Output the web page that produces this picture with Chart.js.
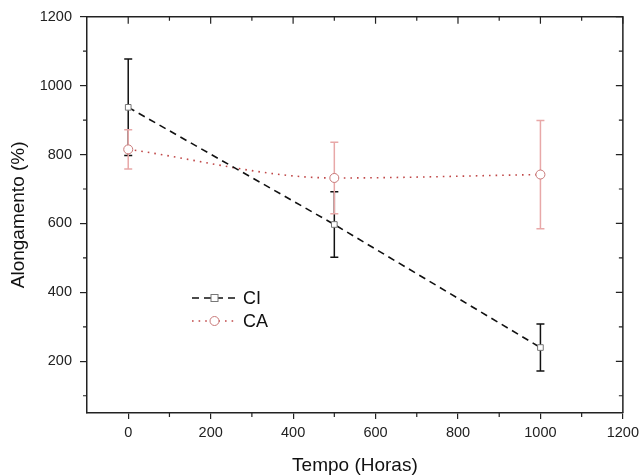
<!DOCTYPE html>
<html>
<head>
<meta charset="utf-8">
<script src="https://cdn.jsdelivr.net/npm/chart.js@4.4.0/dist/chart.umd.min.js"></script>
<style>
  body { margin: 0; background: #fff; }
  canvas { display: block; }
</style>
</head>
<body>
<canvas id="chart" width="644" height="475"></canvas>
<script>
//data
const hours = [0, 500, 1000];
const ciValues = [937, 597, 240];
const ciErrors = [140, 95, 68];
const caValues = [815, 732, 742];
const caErrors = [57, 104, 157];
//tick labels
const xTicks = [0, 200, 400, 600, 800, 1000, 1200];
const xMinor = [100, 300, 500, 700, 900, 1100];
const yTicks = [200, 400, 600, 800, 1000, 1200];
const yMinor = [100, 300, 500, 700, 900, 1100];

const FONT = "'Liberation Sans', Arial, sans-serif";
const AXIS = "#222";

const errorsFor = [ciErrors, caErrors];
const errorColors = ["#111", "#e8a8a8"];

//error bars, drawn under the markers
const errorBars = {
  id: "errorBars",
  beforeDatasetsDraw(chart) {
    const ctx = chart.ctx;
    const y = chart.scales.y;
    chart.data.datasets.forEach((ds, di) => {
      const meta = chart.getDatasetMeta(di);
      ctx.save();
      ctx.strokeStyle = errorColors[di];
      ctx.lineWidth = 1.5;
      meta.data.forEach((pt, i) => {
        const v = ds.data[i].y;
        const e = errorsFor[di][i];
        const top = y.getPixelForValue(v + e);
        const bot = y.getPixelForValue(v - e);
        ctx.beginPath();
        ctx.moveTo(pt.x, top); ctx.lineTo(pt.x, bot);
        ctx.moveTo(pt.x - 4, top); ctx.lineTo(pt.x + 4, top);
        ctx.moveTo(pt.x - 4, bot); ctx.lineTo(pt.x + 4, bot);
        ctx.stroke();
      });
      ctx.restore();
    });
  },
};

//frame on top/right, minor ticks and mirrored ticks
const frame = {
  id: "frame",
  afterDraw(chart) {
    const ctx = chart.ctx;
    const { left, right, top, bottom } = chart.chartArea;
    const x = chart.scales.x, y = chart.scales.y;
    ctx.save();
    ctx.strokeStyle = AXIS;
    ctx.lineWidth = 1.5;
    ctx.beginPath();
    ctx.moveTo(left, top); ctx.lineTo(right, top); ctx.lineTo(right, bottom);
    ctx.stroke();
    ctx.lineWidth = 1.2;
    ctx.beginPath();
    xTicks.forEach((v) => {
      const px = x.getPixelForValue(v);
      ctx.moveTo(px, top); ctx.lineTo(px, top + 7);
    });
    xMinor.forEach((v) => {
      const px = x.getPixelForValue(v);
      ctx.moveTo(px, top); ctx.lineTo(px, top + 4);
      ctx.moveTo(px, bottom); ctx.lineTo(px, bottom + 4);
    });
    yTicks.forEach((v) => {
      const py = y.getPixelForValue(v);
      ctx.moveTo(right, py); ctx.lineTo(right - 7, py);
    });
    yMinor.forEach((v) => {
      const py = y.getPixelForValue(v);
      ctx.moveTo(right, py); ctx.lineTo(right - 4, py);
      ctx.moveTo(left, py); ctx.lineTo(left - 4, py);
    });
    ctx.stroke();
    ctx.restore();
  },
};

//legend inside the plot
const insideLegend = {
  id: "insideLegend",
  afterDraw(chart) {
    const ctx = chart.ctx;
    const rows = [
      { ds: chart.data.datasets[0], y: 298 },
      { ds: chart.data.datasets[1], y: 321 },
    ];
    ctx.save();
    rows.forEach((r) => {
      ctx.strokeStyle = r.ds.borderColor;
      ctx.lineWidth = r.ds.borderWidth;
      ctx.setLineDash(r.ds.borderDash);
      ctx.beginPath();
      ctx.moveTo(192, r.y); ctx.lineTo(238, r.y);
      ctx.stroke();
      ctx.setLineDash([]);
      ctx.fillStyle = "#fff";
      ctx.strokeStyle = r.ds.pointBorderColor;
      ctx.lineWidth = 1;
      if (r.ds.pointStyle === "rect") {
        ctx.fillRect(211, r.y - 3.5, 7, 7);
        ctx.strokeRect(211, r.y - 3.5, 7, 7);
      } else {
        ctx.beginPath();
        ctx.arc(214.5, r.y, 4.5, 0, Math.PI * 2);
        ctx.fill(); ctx.stroke();
      }
      ctx.fillStyle = "#111";
      ctx.font = "18px " + FONT;
      ctx.textBaseline = "middle";
      ctx.fillText(r.ds.label, 243, r.y + 1);
    });
    ctx.restore();
  },
};

new Chart(document.getElementById("chart"), {
  type: "line",
  plugins: [errorBars, frame, insideLegend],
  data: {
    datasets: [
      {
        label: "CI",
        data: hours.map((h, i) => ({ x: h, y: ciValues[i] })),
        borderColor: "#111",
        borderWidth: 1.6,
        borderDash: [7, 5],
        tension: 0,
        pointStyle: "rect",
        pointRadius: 4,
        pointBackgroundColor: "#fff",
        pointBorderColor: "#777",
        pointBorderWidth: 1,
      },
      {
        label: "CA",
        data: hours.map((h, i) => ({ x: h, y: caValues[i] })),
        borderColor: "#c04848",
        borderWidth: 1.6,
        borderDash: [1.6, 5],
        cubicInterpolationMode: "monotone",
        pointStyle: "circle",
        pointRadius: 4.5,
        pointBackgroundColor: "#fff",
        pointBorderColor: "#c87878",
        pointBorderWidth: 1,
      },
    ],
  },
  options: {
    responsive: false,
    animation: false,
    layout: { padding: { top: 16, right: 15, left: 0, bottom: 0 } },
    plugins: {
      legend: { display: false },
      tooltip: { enabled: false },
    },
    scales: {
      x: {
        type: "linear",
        min: -100,
        max: 1200,
        afterBuildTicks: (s) => { s.ticks = xTicks.map((v) => ({ value: v })); },
        afterFit: (s) => { s.height = 62; },
        grid: { display: true, drawOnChartArea: false, drawTicks: true, tickLength: 6, color: AXIS, lineWidth: 1.2 },
        border: { display: true, color: AXIS, width: 1.5 },
        ticks: { color: AXIS, padding: 5, maxRotation: 0, callback: (v) => String(v), font: { family: FONT, size: 14.5 } },
        title: {
          display: true,
          text: "Tempo (Horas)",
          color: "#111",
          padding: { top: 0, bottom: 0 },
          font: { family: FONT, size: 19, lineHeight: 1 },
        },
      },
      y: {
        type: "linear",
        min: 50,
        max: 1200,
        afterBuildTicks: (s) => { s.ticks = yTicks.map((v) => ({ value: v })); },
        afterFit: (s) => { s.width = 87; },
        grid: { display: true, drawOnChartArea: false, drawTicks: true, tickLength: 7, color: AXIS, lineWidth: 1.2 },
        border: { display: true, color: AXIS, width: 1.5 },
        ticks: { color: AXIS, padding: 8, callback: (v) => String(v), font: { family: FONT, size: 14.5 } },
        title: {
          display: true,
          text: "Alongamento (%)",
          color: "#111",
          padding: { top: 9, bottom: 0 },
          font: { family: FONT, size: 19, lineHeight: 1 },
        },
      },
    },
  },
});
</script>
</body>
</html>
